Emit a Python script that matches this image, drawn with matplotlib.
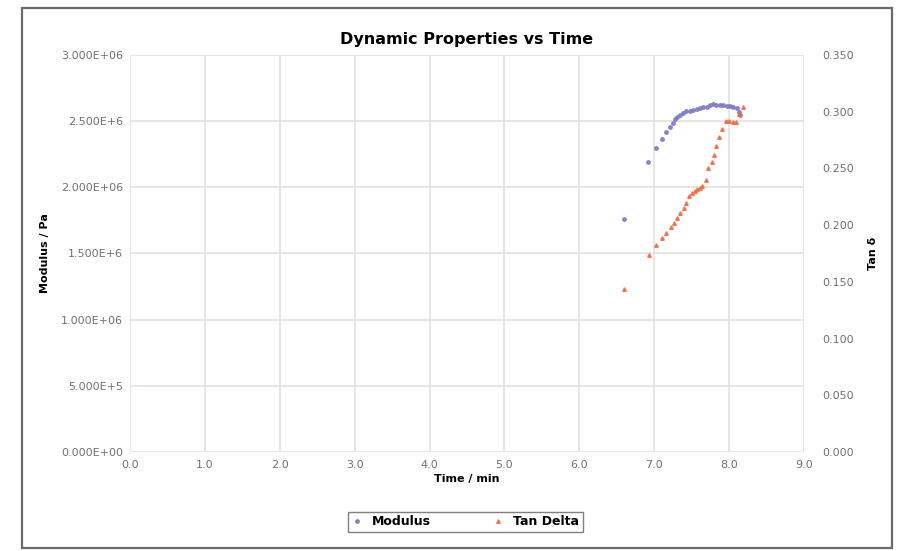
import numpy as np
import matplotlib.pyplot as plt
from matplotlib.patches import Rectangle

# data
time_mod = [6.60, 6.92, 7.02, 7.10, 7.16, 7.21, 7.25, 7.28, 7.31, 7.34, 7.39, 7.43,
            7.48, 7.52, 7.57, 7.61, 7.65, 7.70, 7.74, 7.79, 7.83, 7.88, 7.92, 7.97,
            8.01, 8.05, 8.10, 8.13, 8.15]
modulus = [1.76e6, 2.19e6, 2.295e6, 2.363e6, 2.416e6, 2.454e6, 2.484e6, 2.514e6,
           2.534e6, 2.549e6, 2.564e6, 2.574e6, 2.579e6, 2.584e6, 2.590e6, 2.597e6,
           2.605e6, 2.610e6, 2.620e6, 2.627e6, 2.625e6, 2.620e6, 2.622e6, 2.617e6,
           2.617e6, 2.610e6, 2.597e6, 2.572e6, 2.547e6]

time_tan = [6.60, 6.93, 7.02, 7.11, 7.16, 7.22, 7.26, 7.31, 7.35, 7.40, 7.43, 7.47,
            7.50, 7.54, 7.57, 7.61, 7.64, 7.69, 7.72, 7.77, 7.80, 7.83, 7.87, 7.91,
            7.96, 8.00, 8.05, 8.09, 8.13, 8.18]
tan_delta = [0.1434, 0.1737, 0.1825, 0.1884, 0.1934, 0.1981, 0.2022, 0.2060, 0.2104,
             0.2148, 0.2193, 0.2257, 0.2286, 0.2304, 0.2316, 0.2330, 0.2345, 0.2398,
             0.2501, 0.2560, 0.2618, 0.2698, 0.2774, 0.2845, 0.2921, 0.2921, 0.2909,
             0.2912, 0.2980, 0.3039]

x_ticks = np.arange(0, 9.5, 1.0)
mod_ticks = np.arange(0, 3.01e6, 0.5e6)
mod_labels = ["0.000E+00", "5.000E+5", "1.000E+06", "1.500E+6",
              "2.000E+06", "2.500E+6", "3.000E+06"]
tan_ticks = np.arange(0, 0.351, 0.05)

blue = "#7a78c4"
orange = "#ee6a45"
grid_c = "#e6e0dc"
tick_c = "#707070"

fig = plt.figure(figsize=(8.99, 5.51), dpi=100)
ax = fig.add_axes([0.1446, 0.1797, 0.7497, 0.7205])
ax2 = ax.twinx()

ax.plot(time_mod, modulus, "o", ms=2.5, color=blue, mec=blue, alpha=0.85, label="Modulus")
ax2.plot(time_tan, tan_delta, "^", ms=2.6, color=orange, mec=orange, alpha=0.85, label="Tan Delta")

ax.set_xlim(0, 9)
ax.set_ylim(0, 3e6)
ax2.set_ylim(0, 0.35)
ax.set_xticks(x_ticks)
ax.set_xticklabels([f"{v:.1f}" for v in x_ticks])
ax.set_yticks(mod_ticks)
ax.set_yticklabels(mod_labels)
ax2.set_yticks(tan_ticks)
ax2.set_yticklabels([f"{v:.3f}" for v in tan_ticks])

ax.grid(True, color=grid_c, lw=1.2)
ax.set_axisbelow(True)
for a in (ax, ax2):
    for s in a.spines.values():
        s.set_visible(False)
    a.tick_params(length=0, labelsize=8, colors=tick_c)
ax.tick_params(axis="y", pad=5)
ax2.tick_params(axis="y", pad=13)
ax.tick_params(axis="x", pad=6)

ax.set_title("Dynamic Properties vs Time", fontsize=11.5, fontweight="bold", pad=8)
ax.set_xlabel("Time / min", fontsize=8, fontweight="bold", labelpad=3)
ax.set_ylabel("Modulus / Pa", fontsize=8, fontweight="bold", labelpad=8)
ax2.set_ylabel("Tan δ", fontsize=8, fontweight="bold", labelpad=10)

h1, l1 = ax.get_legend_handles_labels()
h2, l2 = ax2.get_legend_handles_labels()
leg = fig.legend(h1 + h2, l1 + l2, loc="center", bbox_to_anchor=(0.518, 0.053), ncol=2,
                 fancybox=False, edgecolor="#606060", prop={"weight": "bold", "size": 9},
                 markerscale=1.0, handlelength=0.8, columnspacing=5, borderpad=0.3)
leg.get_frame().set_linewidth(1.0)

# outer chart frame
fig.patches.append(Rectangle((0.025, 0.005), 0.967, 0.980, transform=fig.transFigure,
                             fill=False, edgecolor="#6a6a6a", lw=1.6))

fig.savefig("out.png", dpi=100)
